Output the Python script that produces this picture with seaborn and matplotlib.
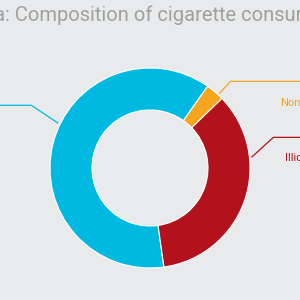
import numpy as np
import matplotlib
matplotlib.use('Agg')
import matplotlib.pyplot as plt
import seaborn as sns

# 데이터
labels = ['Legal domestic', 'Non-domestic', 'Illicit']
shares = [62, 3, 35]
colors = ['#00B9E1', '#F5A51E', '#B3111C']
title_head = 'Saudi Arabia: '
title_rest = 'Composition of cigarette consumption'

sns.set_theme(style='white')
plt.rcParams['font.family'] = ['Roboto', 'DejaVu Sans']
bg = '#E9EAEB'

fig = plt.figure(figsize=(3, 3), dpi=100, facecolor=bg)
ax = fig.add_axes([0, 0, 1, 1], facecolor=bg)

cx, cy, r = 150, 132, 100
wedges, _ = ax.pie(shares, colors=colors, startangle=-82, counterclock=False,
                   center=(cx, cy), radius=r, frame=True,
                   wedgeprops=dict(width=42, edgecolor='white', linewidth=0.8))
ax.set_xlim(0, 300)
ax.set_ylim(0, 300)
ax.set_aspect('equal')
ax.axis('off')

# 지시선 (각도는 12시 기준 시계방향)
anchor_deg = [296, 43, 84]
elbow_dx = [-27, 11, 22]
elbow_dy = [18, 12, 20]
text_x = [-90, 280, 285]
text_y = [195, 197, 142]
for lab, col, a, ex, ey, tx, ty in zip(labels, colors, anchor_deg, elbow_dx, elbow_dy, text_x, text_y):
    t = np.deg2rad(a)
    x0 = cx + r * 1.02 * np.sin(t)
    y0 = cy + r * 1.02 * np.cos(t)
    x1, y1 = x0 + ex, y0 + ey
    x2 = 0 if ex < 0 else 300
    ax.plot([x0, x1, x2], [y0, y1, y1], color=col, lw=0.9, solid_capstyle='butt')
    ax.text(tx, ty, lab, color=col, fontsize=8, va='center', ha='left')

# 제목: 'Composition'이 x=15px에서 시작하도록 (앞부분은 잘림)
fs = 14.5
renderer = fig.canvas.get_renderer()
probe = fig.text(0, 0, title_rest, fontsize=fs)
w_rest = probe.get_window_extent(renderer).width
probe.remove()
fig.text((15 + w_rest) / 300, 0.95, title_head + title_rest, color='#A0A0A0',
         fontsize=fs, va='center', ha='right')

fig.savefig('out.png', dpi=100, facecolor=bg)
